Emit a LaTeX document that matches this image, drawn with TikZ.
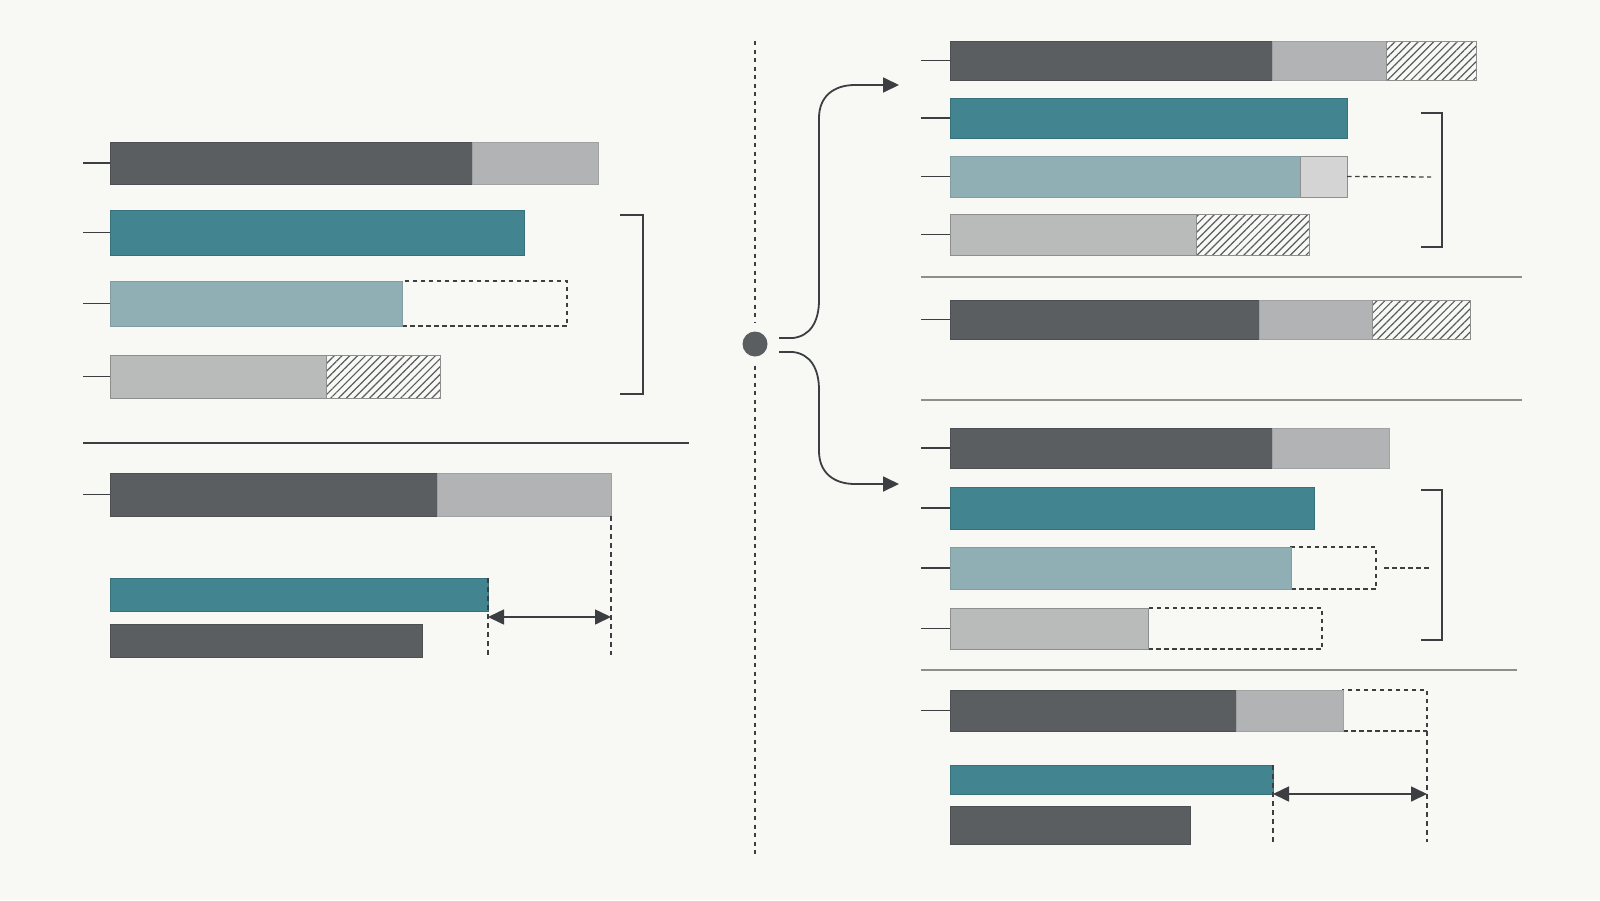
\documentclass[tikz,border=0pt]{standalone}
\usetikzlibrary{arrows.meta,patterns.meta}
\definecolor{bg}{HTML}{F8F8F5}
\definecolor{darkbar}{HTML}{5A5E61}
\definecolor{lightbar}{HTML}{B1B3B4}
\definecolor{tealbar}{HTML}{428590}
\definecolor{ltealbar}{HTML}{90AFB4}
\definecolor{graybar}{HTML}{B9BABA}
\definecolor{palebar}{HTML}{D4D4D4}
\definecolor{ink}{HTML}{3C3F42}
\definecolor{rulegray}{HTML}{8E8E8E}
\newcommand\seg[6]{\node[segbase,#6,minimum width={#4pt-#2pt},minimum height={#5pt-#3pt}] (#1) at (#2,#3) {};}
\begin{document}
\begin{tikzpicture}[x=1pt,y=-1pt,
  segbase/.style={rectangle,inner sep=0pt,outer sep=0pt,anchor=north west},
  darkseg/.style={fill=darkbar,draw=darkbar!85!black,line width=0.6pt},
  lightseg/.style={fill=lightbar,draw=lightbar!90!black,line width=0.6pt},
  tealseg/.style={fill=tealbar,draw=tealbar!85!black,line width=0.6pt},
  ltealseg/.style={fill=ltealbar,draw=ltealbar!90!black,line width=0.6pt},
  grayseg/.style={fill=graybar,draw=rulegray,line width=1pt},
  paleseg/.style={fill=palebar,draw=rulegray,line width=0.8pt},
  hatchseg/.style={fill=white,pattern={Lines[angle=45,distance=5.5pt,line width=1.2pt]},pattern color=ink!85,draw=rulegray,line width=1pt},
  dashseg/.style={draw=ink,dash pattern=on 4.5pt off 3.5pt,line width=1.3pt},
  tickline/.style={draw=ink,line width=1.6pt},
  bracketline/.style={draw=ink,line width=2.3pt},
  dimline/.style={draw=ink,line width=1.3pt,dash pattern=on 5pt off 4pt},
  dblarrow/.style={draw=ink,line width=1.6pt,{Triangle[length=16pt,width=15pt]}-{Triangle[length=16pt,width=15pt]}},
  fork/.style={draw=ink,line width=1.8pt,-{Triangle[length=16pt,width=15pt]}},
  divider/.style={draw=ink,line width=1.5pt},
  lightdivider/.style={draw=rulegray,line width=1.5pt},
  centerline/.style={draw=ink,line width=1.6pt,dash pattern=on 4pt off 4.5pt},
  hub/.style={circle,fill=darkbar,inner sep=0pt,minimum size=25pt}
]
\fill[bg] (0,0) rectangle (1600,900);
\useasboundingbox (0,0) rectangle (1600,900);

% ---------------- left panel ----------------
\seg{L1a}{110}{142}{472}{184}{darkseg}
\seg{L1b}{472}{142}{598}{184}{lightseg}
\seg{L2}{110}{210}{524}{255}{tealseg}
\seg{L3b}{402}{281}{567}{326}{dashseg}
\seg{L3a}{110}{281}{402}{326}{ltealseg}
\seg{L4a}{110}{355}{326}{398}{grayseg}
\seg{L4b}{326}{355}{440}{398}{hatchseg}
\seg{L5a}{110}{473}{437}{516}{darkseg}
\seg{L5b}{437}{473}{611}{516}{lightseg}
\seg{L6}{110}{578}{488}{611}{tealseg}
\seg{L7}{110}{624}{422}{657}{darkseg}

\foreach \n/\y in {L1a/163, L2/232.5, L3a/303.5, L4a/376.5, L5a/494.5}
  {\coordinate (t\n) at (83,\y); \draw[tickline] (t\n) -- (\n.west);}

\coordinate (bLt) at (620,215); \coordinate (bLb) at (620,394);
\draw[bracketline] (bLt) -| (643,394) -- (bLb);

\coordinate (dLa) at (83,443); \coordinate (dLb) at (689,443);
\draw[divider] (dLa) -- (dLb);

\coordinate (vL1) at (611,655); \coordinate (vL2) at (488,655);
\draw[dimline] (L5b.south east) -- (vL1);
\draw[dimline] (L6.north east) -- (vL2);
\coordinate (aL1) at (488,617); \coordinate (aL2) at (611,617);
\draw[dblarrow] (aL1) -- (aL2);

% ---------------- centre ----------------
\node[hub] (hub) at (755,344) {};
\coordinate (cTop) at (755,41); \coordinate (cBot) at (755,855);
\draw[centerline] (cTop) -- ([yshift=9pt]hub.north);
\draw[centerline] ([yshift=-9pt]hub.south) -- (cBot);

\coordinate (f1) at (779,338); \coordinate (f2) at (779,352);
\coordinate (up) at (899,85); \coordinate (down) at (899,484);
\draw[fork] (f1) -- (793,338) .. controls (810,336) and (819,322) .. (819,300)
  -- (819,118) .. controls (819,97) and (833,85) .. (855,85) -- (up);
\draw[fork] (f2) -- (793,352) .. controls (810,354) and (819,368) .. (819,390)
  -- (819,451) .. controls (819,472) and (833,484) .. (855,484) -- (down);

% ---------------- right panel ----------------
\seg{R1a}{950}{41}{1272}{80}{darkseg}
\seg{R1b}{1272}{41}{1386}{80}{lightseg}
\seg{R1c}{1386}{41}{1476}{80}{hatchseg}
\seg{R2}{950}{98}{1347}{138}{tealseg}
\seg{R3a}{950}{156}{1300}{197}{ltealseg}
\seg{R3b}{1300}{156}{1347}{197}{paleseg}
\seg{R4a}{950}{214}{1196}{255}{grayseg}
\seg{R4b}{1196}{214}{1309}{255}{hatchseg}
\seg{R5a}{950}{300}{1259}{339}{darkseg}
\seg{R5b}{1259}{300}{1372}{339}{lightseg}
\seg{R5c}{1372}{300}{1470}{339}{hatchseg}
\seg{R6a}{950}{428}{1272}{468}{darkseg}
\seg{R6b}{1272}{428}{1389}{468}{lightseg}
\seg{R7}{950}{487}{1314}{529}{tealseg}
\seg{R8b}{1291}{547}{1376}{589}{dashseg}
\seg{R8a}{950}{547}{1291}{589}{ltealseg}
\seg{R9b}{1148}{608}{1322}{649}{dashseg}
\seg{R9a}{950}{608}{1148}{649}{grayseg}
\seg{R10c}{1343}{690}{1427}{731}{dashseg}
\seg{R10a}{950}{690}{1236}{731}{darkseg}
\seg{R10b}{1236}{690}{1343}{731}{lightseg}
\seg{R11}{950}{765}{1273}{794}{tealseg}
\seg{R12}{950}{806}{1190}{844}{darkseg}

\foreach \n in {R1a,R2,R3a,R4a,R5a,R6a,R7,R8a,R9a,R10a}
  {\coordinate (t\n) at ([xshift=-29pt]\n.west); \draw[tickline] (t\n) -- (\n.west);}

\coordinate (bR1t) at (1421,113); \coordinate (bR1b) at (1421,247);
\draw[bracketline] (bR1t) -| (1442,247) -- (bR1b);
\coordinate (bR2t) at (1421,490); \coordinate (bR2b) at (1421,640);
\draw[bracketline] (bR2t) -| (1442,640) -- (bR2b);

\coordinate (e3) at (1431,177);
\draw[dashseg] (R3b.east) -- (e3);
\coordinate (s8) at (1384,568); \coordinate (e8) at (1431,568);
\draw[dashseg] (s8) -- (e8);

\coordinate (d1a) at (921,277); \coordinate (d1b) at (1522,277);
\coordinate (d2a) at (921,400); \coordinate (d2b) at (1522,400);
\coordinate (d3a) at (921,670); \coordinate (d3b) at (1517,670);
\draw[lightdivider] (d1a) -- (d1b);
\draw[lightdivider] (d2a) -- (d2b);
\draw[lightdivider] (d3a) -- (d3b);

\coordinate (vR1) at (1427,842); \coordinate (vR2) at (1273,842);
\draw[dimline] (R10c.south east) -- (vR1);
\draw[dimline] (R11.north east) -- (vR2);
\coordinate (aR1) at (1273,794); \coordinate (aR2) at (1427,794);
\draw[dblarrow] (aR1) -- (aR2);
\end{tikzpicture}
\end{document}
